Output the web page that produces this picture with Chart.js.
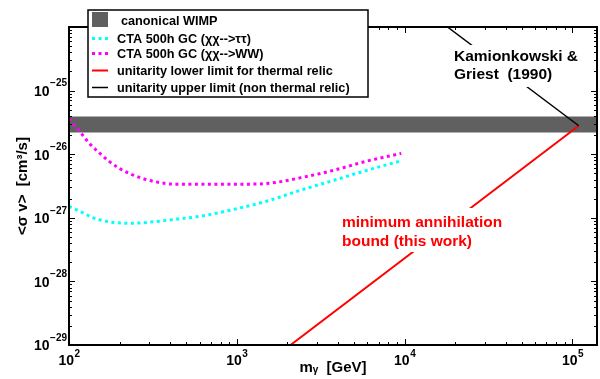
<!DOCTYPE html>
<html>
<head>
<meta charset="utf-8">
<script src="https://cdn.jsdelivr.net/npm/chart.js@4"></script>
<style>
  body { margin: 0; background: #fff; }
  #wrap { width: 600px; height: 379px; }
</style>
</head>
<body>
<div id="wrap"><canvas id="sigmaChart"></canvas></div>
<script>
// values (mass in GeV, <sigma v> in cm^3/s)
const wwMass = [100, 118, 132, 151, 172, 199, 234, 274, 330, 414, 597, 950, 1334, 1700, 2372, 3740, 5916, 9550];
const wwSigma = [3.63e-26, 2.14e-26, 1.49e-26, 1.06e-26, 7.85e-27, 6.0e-27, 4.85e-27, 4.16e-27, 3.67e-27, 3.39e-27,
  3.37e-27, 3.37e-27, 3.4e-27, 3.6e-27, 4.24e-27, 5.55e-27, 7.76e-27, 1.03e-26];

const tauMass = [100, 118, 138, 174, 234, 315, 433, 625, 950, 1503, 2372, 3740, 5916, 9330];
const tauSigma = [1.51e-27, 1.24e-27, 1.01e-27, 8.63e-28, 8.2e-28, 8.63e-28, 9.5e-28, 1.07e-27, 1.35e-27,
  1.82e-27, 2.69e-27, 3.85e-27, 5.55e-27, 7.76e-27];

const bandMass = [100, 1.4e5];
const bandLow = [2.2e-26, 2.2e-26];
const bandHigh = [3.9e-26, 3.9e-26];

const lowerMass = [2090, 1.09e5];
const lowerSigma = [1e-29, 2.8e-26];

const upperMass = [1.8e4, 1.09e5];
const upperSigma = [1.0e-24, 2.8e-26];

// tick labels: mantissa "10" plus exponent
const xTickValues = [1e2, 1e3, 1e4, 1e5];
const xTickExps = ['2', '3', '4', '5'];
const yTickValues = [1e-29, 1e-28, 1e-27, 1e-26, 1e-25];
const yTickExps = ['\u221229', '\u221228', '\u221227', '\u221226', '\u221225'];

const FONT = '"Liberation Sans", Arial, Helvetica, sans-serif';

function pts(xs, ys) {
  return xs.map((x, i) => ({ x: x, y: ys[i] }));
}

// 1..9 x 10^n ticks, so the minor marks can be drawn too
function logTicks(min, max) {
  const out = [];
  for (let e = Math.floor(Math.log10(min)); e <= Math.ceil(Math.log10(max)); e++) {
    for (let k = 1; k < 10; k++) {
      const v = k * Math.pow(10, e);
      if (v >= min * 0.999 && v <= max * 1.001) out.push({ value: v });
    }
  }
  return out;
}

function isDecade(v) {
  const l = Math.log10(v);
  return Math.abs(l - Math.round(l)) < 1e-6;
}

const framePlugin = {
  id: 'frame',
  afterDatasetsDraw(chart) {
    const { ctx, chartArea: a, scales } = chart;
    ctx.save();
    ctx.strokeStyle = '#000';
    ctx.lineWidth = 1;
    ctx.beginPath();
    scales.x.ticks.forEach((t) => {
      const px = Math.round(scales.x.getPixelForValue(t.value)) + 0.5;
      const len = isDecade(t.value) ? 6 : 3;
      ctx.moveTo(px, a.bottom); ctx.lineTo(px, a.bottom - len);
      ctx.moveTo(px, a.top); ctx.lineTo(px, a.top + len);
    });
    scales.y.ticks.forEach((t) => {
      const py = Math.round(scales.y.getPixelForValue(t.value)) + 0.5;
      const len = isDecade(t.value) ? 6 : 3;
      ctx.moveTo(a.left, py); ctx.lineTo(a.left + len, py);
      ctx.moveTo(a.right, py); ctx.lineTo(a.right - len, py);
    });
    ctx.stroke();
    ctx.lineWidth = 2;
    ctx.strokeRect(a.left, a.top, a.right - a.left, a.bottom - a.top);

    // tick labels with raised exponents
    const big = 'bold 14px ' + FONT;
    const small = 'bold 10px ' + FONT;
    ctx.fillStyle = '#000';
    ctx.textBaseline = 'middle';
    xTickValues.forEach((v, i) => {
      const px = scales.x.getPixelForValue(v);
      ctx.font = big;
      const wb = ctx.measureText('10').width;
      ctx.font = small;
      const ws = ctx.measureText(xTickExps[i]).width;
      const x0 = px - (wb + ws) / 2;
      ctx.textAlign = 'left';
      ctx.font = big;
      ctx.fillText('10', x0, 361);
      ctx.font = small;
      ctx.fillText(xTickExps[i], x0 + wb + 0.5, 354);
    });
    yTickValues.forEach((v, i) => {
      const py = scales.y.getPixelForValue(v);
      ctx.textAlign = 'right';
      ctx.font = small;
      const ws = ctx.measureText(yTickExps[i]).width;
      ctx.fillText(yTickExps[i], 67, py - 7);
      ctx.font = big;
      ctx.fillText('10', 67 - ws - 0.5, py + 1.5);
    });

    // text notes, each on a white patch
    ctx.font = 'bold 15.5px ' + FONT;
    ctx.textBaseline = 'middle';
    ctx.textAlign = 'left';
    ctx.fillStyle = '#fff';
    ctx.fillRect(452, 45, 132, 42);
    ctx.fillStyle = '#000';
    ctx.fillText('Kamionkowski &', 454, 57);
    ctx.fillText('Griest  (1990)', 454, 75);

    ctx.fillStyle = '#fff';
    ctx.fillRect(339, 208, 168, 44);
    ctx.fillStyle = '#ff0000';
    ctx.fillText('minimum annihilation', 342, 223);
    ctx.fillText('bound (this work)', 342, 241.5);
    ctx.restore();
  },
  afterDraw(chart) {
    const ctx = chart.ctx;
    const ds = chart.data.datasets;
    ctx.save();
    ctx.fillStyle = '#fff';
    ctx.fillRect(88, 10, 280, 87);
    ctx.strokeStyle = '#000';
    ctx.lineWidth = 1.5;
    ctx.strokeRect(88, 10, 280, 87);

    ctx.font = 'bold 12.7px ' + FONT;
    ctx.textBaseline = 'middle';
    ctx.textAlign = 'left';

    // canonical WIMP box
    ctx.fillStyle = ds[1].backgroundColor;
    ctx.fillRect(92, 12, 16, 15);
    ctx.fillStyle = '#000';
    ctx.fillText(ds[1].label, 121, 21);

    const rows = [
      { d: ds[2], y: 38.5 },
      { d: ds[3], y: 53.5 },
      { d: ds[4], y: 70.5 },
      { d: ds[5], y: 87.5 }
    ];
    rows.forEach((r) => {
      ctx.strokeStyle = r.d.borderColor;
      ctx.lineWidth = r.d.borderWidth;
      ctx.setLineDash(r.d.borderDash || []);
      ctx.beginPath();
      ctx.moveTo(92, r.y);
      ctx.lineTo(108, r.y);
      ctx.stroke();
      ctx.setLineDash([]);
      ctx.fillStyle = '#000';
      ctx.fillText(r.d.label, 117, r.y + 0.5);
    });
    ctx.restore();
  }
};

const ctx = document.getElementById('sigmaChart').getContext('2d');
new Chart(ctx, {
  type: 'line',
  data: {
    datasets: [
      { label: '', data: pts(bandMass, bandLow), borderWidth: 0, pointRadius: 0, fill: false, order: 10 },
      { label: 'canonical WIMP', data: pts(bandMass, bandHigh), borderWidth: 0, pointRadius: 0,
        fill: '-1', backgroundColor: '#606060', order: 9 },
      { label: 'CTA 500h GC (χχ-->ττ)', data: pts(tauMass, tauSigma), borderColor: '#00ffff',
        borderWidth: 3, borderDash: [3, 3.5], pointRadius: 0, cubicInterpolationMode: 'monotone',
        fill: false, order: 4 },
      { label: 'CTA 500h GC (χχ-->WW)', data: pts(wwMass, wwSigma), borderColor: '#ff00ff',
        borderWidth: 3, borderDash: [3, 3.5], pointRadius: 0, cubicInterpolationMode: 'monotone',
        fill: false, order: 3 },
      { label: 'unitarity lower limit for thermal relic', data: pts(lowerMass, lowerSigma),
        borderColor: '#ff0000', borderWidth: 2, pointRadius: 0, fill: false, order: 2 },
      { label: 'unitarity upper limit (non thermal relic)', data: pts(upperMass, upperSigma),
        borderColor: '#000000', borderWidth: 1.5, pointRadius: 0, fill: false, order: 1 }
    ]
  },
  options: {
    responsive: true,
    maintainAspectRatio: false,
    animation: false,
    layout: { padding: { top: 27, right: 3, left: 0, bottom: 0 } },
    plugins: { legend: { display: false }, tooltip: { enabled: false } },
    scales: {
      x: {
        type: 'logarithmic',
        min: 100,
        max: 1.4e5,
        grid: { display: false, drawTicks: false },
        border: { display: false },
        afterBuildTicks: (scale) => { scale.ticks = logTicks(scale.min, scale.max); },
        afterFit: (scale) => { scale.height = 34; },
        ticks: { display: false },
        title: {
          display: true, text: 'mᵧ  [GeV]', color: '#000',
          padding: { top: 0, bottom: 2 },
          font: { family: FONT, size: 15, weight: 'bold' }
        }
      },
      y: {
        type: 'logarithmic',
        min: 1e-29,
        max: 1e-24,
        grid: { display: false, drawTicks: false },
        border: { display: false },
        afterBuildTicks: (scale) => { scale.ticks = logTicks(scale.min, scale.max); },
        afterFit: (scale) => { scale.width = 69; },
        ticks: { display: false },
        title: {
          display: true, text: '<σ v>  [cm³/s]', color: '#000',
          padding: { top: 14, bottom: 0 },
          font: { family: FONT, size: 15, weight: 'bold' }
        }
      }
    }
  },
  plugins: [framePlugin]
});
</script>
</body>
</html>
